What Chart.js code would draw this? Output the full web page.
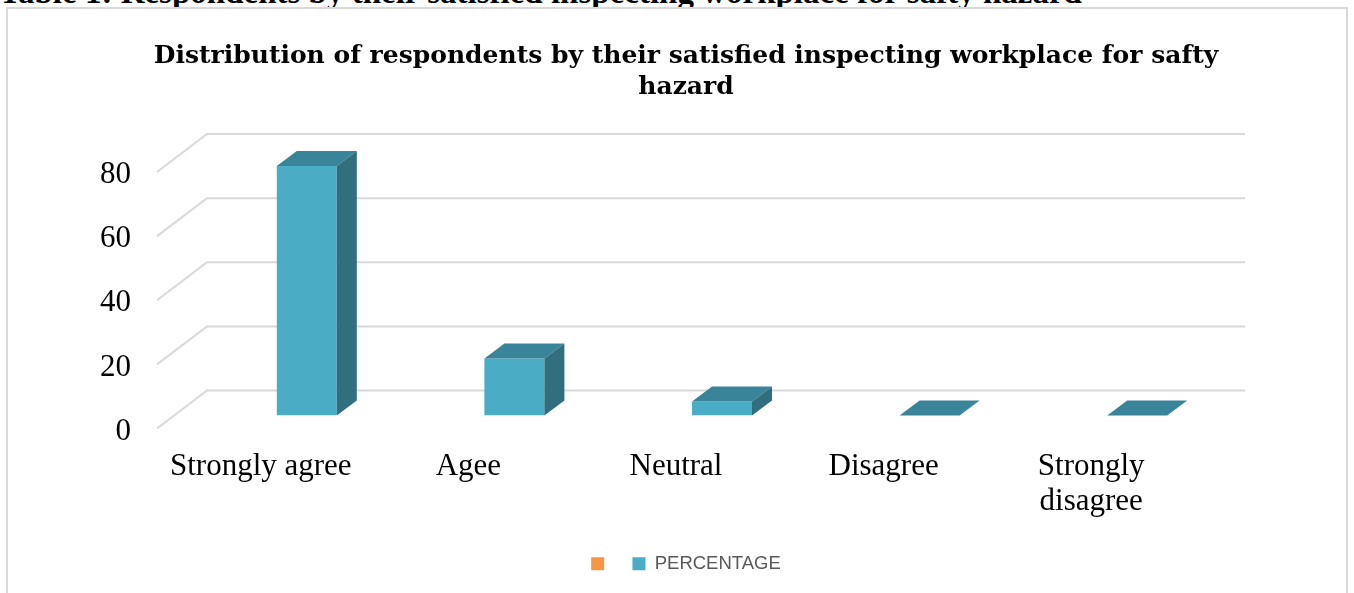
<!DOCTYPE html>
<html>
<head>
<meta charset="utf-8">
<title>Safety hazard inspection</title>
<script src="https://cdn.jsdelivr.net/npm/chart.js@4.4.1/dist/chart.umd.min.js"></script>
<style>
    html, body {
        margin: 0;
        padding: 0;
        background: #ffffff;
        overflow: hidden;
    }
    .table-caption {
        position: absolute;
        left: -1px;
        top: -24px;
        font: bold 33px 'Liberation Serif', serif;
        line-height: 33px;
        color: #000000;
        white-space: nowrap;
    }
    .chart-frame {
        position: absolute;
        left: 6px;
        top: 7px;
        width: 1342px;
        height: 640px;
        box-sizing: border-box;
        border: 2px solid #d9d9d9;
        background: #ffffff;
    }
    #hazardChart {
        position: absolute;
        left: 0;
        top: 0;
    }
</style>
</head>
<body>
<div class="table-caption">Table 1: Respondents by their satisfied inspecting workplace for safty hazard</div>
<div class="chart-frame"></div>
<canvas id="hazardChart" width="1354" height="593"></canvas>

<script>
// Survey answers and share of respondents (%)
const categories = ['Strongly agree', 'Agee', 'Neutral', 'Disagree', ['Strongly', 'disagree']];
const percentage = [77.8, 17.8, 4.4, 0, 0];
const yTicks = [0, 20, 40, 60, 80];

const chartTitle = [
    'Distribution of respondents by their satisfied inspecting workplace for safty',
    'hazard'
];

// Excel-like 3D look
const FRONT = '#4bacc6';
const TOP = '#3a8499';
const SIDE = '#316f7e';
const BAR_DEPTH_X = 20;
const BAR_DEPTH_Y = -15;

// offsets of the back wall and the front edge from the bar plane
const BACK_DX = 4;
const BACK_DY = -25;
const FRONT_DX = -46;
const FRONT_DY = 13;

const wallPlugin = {
    id: 'wall3d',
    beforeDatasetsDraw(chart) {
        const ctx = chart.ctx;
        const area = chart.chartArea;
        const yScale = chart.scales.y;
        ctx.save();
        ctx.strokeStyle = '#d9d9d9';
        ctx.lineWidth = 2;
        yTicks.forEach(v => {
            const py = yScale.getPixelForValue(v);
            const bx = area.left + BACK_DX;
            const by = py + BACK_DY;
            ctx.beginPath();
            // diagonal on the side wall
            ctx.moveTo(area.left + FRONT_DX, py + FRONT_DY);
            ctx.lineTo(bx, by);
            // line on the back wall
            ctx.lineTo(area.right + BACK_DX, by);
            ctx.stroke();
        });
        ctx.restore();
    },
    afterDatasetsDraw(chart) {
        const ctx = chart.ctx;
        const meta = chart.getDatasetMeta(1);
        ctx.save();
        meta.data.forEach(bar => {
            const { x, y, base, width } = bar.getProps(['x', 'y', 'base', 'width'], true);
            const xl = x - width / 2;
            const xr = x + width / 2;

            // top face
            ctx.fillStyle = TOP;
            ctx.beginPath();
            ctx.moveTo(xl, y);
            ctx.lineTo(xr, y);
            ctx.lineTo(xr + BAR_DEPTH_X, y + BAR_DEPTH_Y);
            ctx.lineTo(xl + BAR_DEPTH_X, y + BAR_DEPTH_Y);
            ctx.closePath();
            ctx.fill();

            // right side face
            if (base - y > 0.5) {
                ctx.fillStyle = SIDE;
                ctx.beginPath();
                ctx.moveTo(xr, y);
                ctx.lineTo(xr + BAR_DEPTH_X, y + BAR_DEPTH_Y);
                ctx.lineTo(xr + BAR_DEPTH_X, base + BAR_DEPTH_Y);
                ctx.lineTo(xr, base);
                ctx.closePath();
                ctx.fill();
            }
        });
        ctx.restore();
    }
};

const ctx = document.getElementById('hazardChart').getContext('2d');

new Chart(ctx, {
    type: 'bar',
    data: {
        labels: categories,
        datasets: [
            {
                label: '',
                data: [],
                backgroundColor: '#f79646',
                borderWidth: 0
            },
            {
                label: 'PERCENTAGE',
                data: percentage,
                backgroundColor: FRONT,
                borderWidth: 0
            }
        ]
    },
    options: {
        responsive: false,
        animation: false,
        devicePixelRatio: 1,
        grouped: false,
        categoryPercentage: 1,
        barPercentage: 0.289,
        layout: {
            padding: { left: 60, right: 42, top: 0, bottom: 10 }
        },
        plugins: {
            title: {
                display: true,
                text: chartTitle,
                color: '#000000',
                font: {
                    family: "'DejaVu Serif', serif",
                    size: 25,
                    weight: 'bold',
                    lineHeight: '31px'
                },
                padding: { top: 41, bottom: 56 }
            },
            legend: {
                display: true,
                position: 'bottom',
                labels: {
                    boxWidth: 13,
                    boxHeight: 13,
                    padding: 19,
                    color: '#595959',
                    font: {
                        family: "'Liberation Sans', sans-serif",
                        size: 18.5
                    }
                }
            },
            tooltip: { enabled: false }
        },
        scales: {
            x: {
                grid: { display: false },
                border: { display: false },
                ticks: {
                    color: '#000000',
                    font: {
                        family: "'Liberation Serif', serif",
                        size: 31,
                        lineHeight: 1.13
                    },
                    padding: 26,
                    labelOffset: FRONT_DX,
                    autoSkip: false,
                    maxRotation: 0,
                    minRotation: 0
                },
                afterFit(axis) {
                    axis.height = 120;
                }
            },
            y: {
                min: 0,
                max: 80,
                grid: { display: false },
                border: { display: false },
                ticks: {
                    stepSize: 20,
                    color: '#000000',
                    font: {
                        family: "'Liberation Serif', serif",
                        size: 31
                    },
                    padding: 64,
                    labelOffset: FRONT_DY + 3
                },
                afterFit(axis) {
                    axis.width = 143;
                }
            },
            // empty right-hand axis, only reserves room so the title stays centred
            y2: {
                position: 'right',
                grid: { display: false },
                border: { display: false },
                ticks: { display: false },
                afterFit(axis) {
                    axis.width = 71;
                }
            }
        }
    },
    plugins: [wallPlugin]
});
</script>
</body>
</html>
